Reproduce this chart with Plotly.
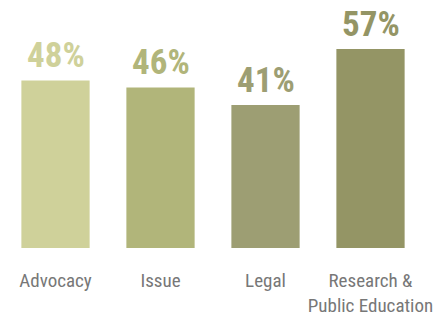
import plotly.graph_objects as go

categories = ["Advocacy", "Issue", "Legal", "Research &<br>Public Education"]
values = [48, 46, 41, 57]
colors = ["#cfd19a", "#b1b57a", "#9d9e73", "#949565"]
value_labels = ["48%", "46%", "41%", "57%"]

FONT = "Roboto Condensed, Roboto, sans-serif"

fig = go.Figure()
fig.add_trace(go.Bar(
    x=categories, y=values, marker=dict(color=colors, line=dict(width=0)),
    width=0.65, hoverinfo="skip",
))
for c, v, t, col in zip(categories, values, value_labels, colors):
    fig.add_annotation(x=c, y=v, text="<b>" + t + "</b>", showarrow=False,
                       yanchor="bottom", yshift=2,
                       font=dict(family=FONT, size=35, color=col))

fig.update_layout(
    width=435, height=327,
    margin=dict(l=3, r=12, t=0, b=79),
    paper_bgcolor="white", plot_bgcolor="white",
    showlegend=False,
    xaxis=dict(range=[-0.5, 3.5], showgrid=False, zeroline=False, showline=False,
               ticks="", ticklabelstandoff=19,
               tickfont=dict(family=FONT, size=19, color="#777777")),
    yaxis=dict(range=[0, 71.06], visible=False),
)
fig.write_html("out.html")
